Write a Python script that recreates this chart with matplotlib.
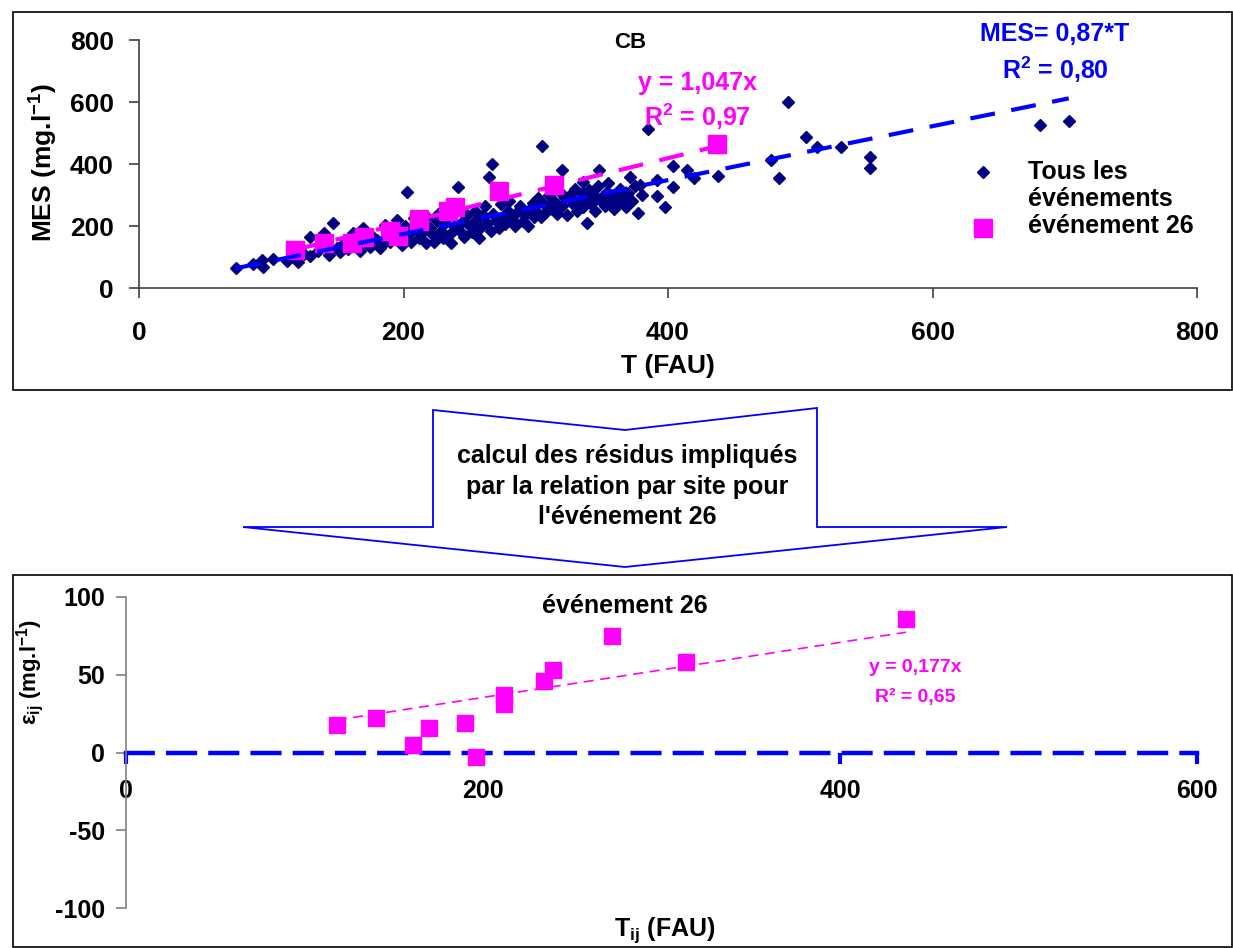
import matplotlib
matplotlib.use('Agg')
import matplotlib.pyplot as plt
from matplotlib.patches import Polygon, Rectangle
import numpy as np

plt.rcParams['font.family'] = ['Liberation Sans', 'DejaVu Sans']
plt.rcParams['font.weight'] = 'bold'
plt.rcParams['axes.unicode_minus'] = False
plt.rcParams['mathtext.fontset'] = 'custom'
plt.rcParams['mathtext.rm'] = 'Liberation Sans:bold'
plt.rcParams['mathtext.it'] = 'Liberation Sans:bold'
plt.rcParams['mathtext.bf'] = 'Liberation Sans:bold'

# ---------------- data ----------------
# all events (turbidity T in FAU, MES in mg/l)
T_all = [73, 86, 93, 94, 101, 112, 120, 125, 129, 129, 135,
         140, 144, 147, 150, 152, 155, 158, 160, 162, 165, 167, 169, 172, 175, 177,
         180, 182, 184, 186, 188, 190, 192, 195, 197, 199,
         201, 203, 204, 206, 208, 210, 212, 213, 215, 217, 218, 220, 222, 223, 225,
         226, 228, 230, 231, 233, 235, 236, 238, 240, 241, 243, 245, 246, 248, 250,
         252, 254, 255, 257, 258, 260, 262, 263, 265, 266, 267, 268, 270, 272, 274,
         275, 277, 279, 280, 282, 284, 286, 288, 290, 292, 294, 296, 298, 299,
         300, 302, 304, 305, 306, 308, 310, 312, 314, 316, 318, 320, 320, 322, 324,
         326, 328, 330, 331, 333, 335, 336, 336, 338, 339, 340, 342, 344, 345, 347,
         348, 349, 350, 352, 354, 355, 357, 359, 360, 362, 364, 366, 368, 370, 371,
         373, 375, 377, 379, 380,
         385, 392, 392, 398, 404, 404, 414, 420, 438, 478, 484, 491, 504, 513, 531,
         553, 553, 681, 703]
MES_all = [65, 77, 90, 68, 94, 87, 84, 110, 103, 165, 120,
           177, 106, 210, 130, 116, 145, 125, 160, 177, 140, 118, 194, 150, 132, 165,
           155, 128, 139, 203, 170, 150, 185, 219, 160, 140,
           200, 310, 175, 150, 225, 190, 160, 210, 180, 145, 230, 195, 170, 150, 215,
           240, 185, 160, 205, 225, 175, 145, 200, 255, 326, 185, 215, 165, 235, 200,
           180, 250, 220, 160, 195, 235, 265, 210, 358, 185, 400, 240, 215, 195, 270,
           230, 205, 250, 280, 220, 200, 245, 265, 215, 235, 200, 255, 275, 230,
           250, 290, 230, 458, 270, 245, 300, 255, 280, 240, 310, 381, 265, 290, 235,
           300, 270, 320, 250, 285, 305, 342, 260, 290, 210, 315, 270, 300, 250, 330,
           381, 280, 295, 265, 310, 340, 285, 255, 300, 275, 320, 290, 260, 305, 358,
           280, 330, 242, 332, 300,
           512, 348, 297, 261, 394, 326, 381, 355, 362, 413, 355, 600, 487, 455, 455,
           423, 387, 526, 539]

# event 26
T_26 = [118, 140, 161, 170, 190, 196, 212, 212, 234, 239, 272, 314, 437]
MES_26 = [121, 144, 145, 164, 184, 168, 221, 215, 250, 261, 312, 331, 466]
res_26 = [18, 22, 5, 16, 19, -3, 37, 31, 46, 53, 75, 58, 86]

slope_all = 0.87
slope_26 = 1.047
slope_res = 0.177

x_ticks_top = [0, 200, 400, 600, 800]
y_ticks_top = [0, 200, 400, 600, 800]
x_ticks_bot = [0, 200, 400, 600]
y_ticks_bot = [-100, -50, 0, 50, 100]

NAVY = '#000080'
MAG = '#FF00FF'
BLUE = '#0000FF'

W, H = 1233, 948
fig = plt.figure(figsize=(W / 100, H / 100), dpi=100)


def fx(x):
    return x / W


def fy(y):
    return 1 - y / H


def ftext(x, y, s, **kw):
    kw.setdefault('ha', 'center')
    kw.setdefault('va', 'center')
    kw.setdefault('fontweight', 'bold')
    fig.text(fx(x), fy(y), s, **kw)


# background axes in pixel coordinates for frames and arrow
bg = fig.add_axes([0, 0, 1, 1], zorder=-1)
bg.set_xlim(0, W)
bg.set_ylim(H, 0)
bg.axis('off')
bg.add_patch(Rectangle((13, 12), 1219, 378, fill=False, ec='black', lw=1.2))
bg.add_patch(Rectangle((13, 575), 1219, 372, fill=False, ec='black', lw=1.2))
arrow = Polygon([(433, 410), (625, 430), (817, 408), (817, 527), (1007, 527),
                 (625, 567), (243, 527), (433, 527)], closed=True,
                fc='white', ec=BLUE, lw=1.3)
bg.add_patch(arrow)

# ---------------- top chart ----------------
ax1 = fig.add_axes([fx(139), fy(288), fx(1197) - fx(139), fy(40) - fy(288)])
ax1.set_facecolor('none')
ax1.plot(T_all, MES_all, 'D', color=NAVY, ms=6.5, mec=NAVY, ls='none', zorder=2)
ax1.plot(T_26, MES_26, 's', color=MAG, ms=13, mec=MAG, ls='none', zorder=3)
xa = np.array([min(T_all), max(T_all)])
ax1.plot(xa, slope_all * xa, color=BLUE, lw=3, dashes=(6, 4), zorder=4)
x26 = np.array([min(T_26), max(T_26)])
ax1.plot(x26, slope_26 * x26, color=MAG, lw=3, dashes=(6, 4), zorder=5)
ax1.set_xlim(0, 800)
ax1.set_ylim(0, 800)
ax1.set_xticks(x_ticks_top)
ax1.set_yticks(y_ticks_top)
for s in ['top', 'right']:
    ax1.spines[s].set_visible(False)
for s in ['left', 'bottom']:
    ax1.spines[s].set_color('#404040')
    ax1.spines[s].set_linewidth(1.2)
ax1.tick_params(axis='both', direction='out', length=7, width=1.2, color='#404040',
                labelsize=19)
ax1.tick_params(axis='x', pad=17)
ax1.tick_params(axis='y', pad=11)
for lab in ax1.get_xticklabels() + ax1.get_yticklabels():
    lab.set_fontweight('bold')

ftext(44, 163, 'MES (mg.l$^{-1}$)', rotation=90, fontsize=19)
ftext(668, 366, 'T (FAU)', fontsize=19)
ftext(630, 42, 'CB', fontsize=16)
ftext(1055, 34, 'MES= 0,87*T', fontsize=18, color=BLUE)
ftext(1055, 70, 'R$^{2}$ = 0,80', fontsize=18, color=BLUE)
ftext(697, 83, 'y = 1,047x', fontsize=18, color=MAG)
ftext(697, 117, 'R$^{2}$ = 0,97', fontsize=18, color=MAG)

# legend
bg.plot([983], [172], 'D', color=NAVY, ms=6.5, mec=NAVY)
bg.plot([983], [228], 's', color=MAG, ms=13, mec=MAG)
ftext(1028, 172, 'Tous les', fontsize=18, ha='left')
ftext(1028, 199, 'événements', fontsize=18, ha='left')
ftext(1028, 226, 'événement 26', fontsize=18, ha='left')

# arrow text
ftext(627, 456, 'calcul des résidus impliqués', fontsize=18)
ftext(627, 487, 'par la relation par site pour', fontsize=18)
ftext(627, 517, "l'événement 26", fontsize=18)

# ---------------- bottom chart ----------------
ax2 = fig.add_axes([fx(126), fy(908), fx(1197) - fx(126), fy(597) - fy(908)])
ax2.set_facecolor('none')
ax2.plot(T_26, res_26, 's', color=MAG, ms=12, mec=MAG, ls='none', zorder=3)
ax2.plot(x26, slope_res * x26, color=MAG, lw=1.2, dashes=(6, 4), zorder=4)
ax2.set_xlim(0, 600)
ax2.set_ylim(-100, 100)
ax2.set_xticks(x_ticks_bot)
ax2.set_yticks(y_ticks_bot)
for s in ['top', 'right']:
    ax2.spines[s].set_visible(False)
ax2.spines['left'].set_color('#808080')
ax2.spines['left'].set_linewidth(1.2)
ax2.spines['bottom'].set_position(('data', 0))
ax2.spines['bottom'].set_color(BLUE)
ax2.spines['bottom'].set_linewidth(3.2)
ax2.spines['bottom'].set_linestyle((0, (6, 3.5)))
ax2.spines['bottom'].set_zorder(2)
ax2.tick_params(axis='y', direction='out', length=7, width=1.2, color='#808080',
                labelsize=18, pad=8)
ax2.tick_params(axis='x', direction='out', length=8, width=3, color=BLUE,
                labelsize=18, pad=11)
for lab in ax2.get_xticklabels() + ax2.get_yticklabels():
    lab.set_fontweight('bold')

ftext(625, 606, 'événement 26', fontsize=18)
ftext(915, 667, 'y = 0,177x', fontsize=14, color=MAG)
ftext(915, 697, 'R² = 0,65', fontsize=14, color=MAG)
ftext(665, 930, 'T$_{ij}$ (FAU)', fontsize=18)
ftext(30, 672, 'ε$_{ij}$ (mg.l$^{-1}$)', rotation=90, fontsize=16)

fig.savefig('out.png', dpi=100)
